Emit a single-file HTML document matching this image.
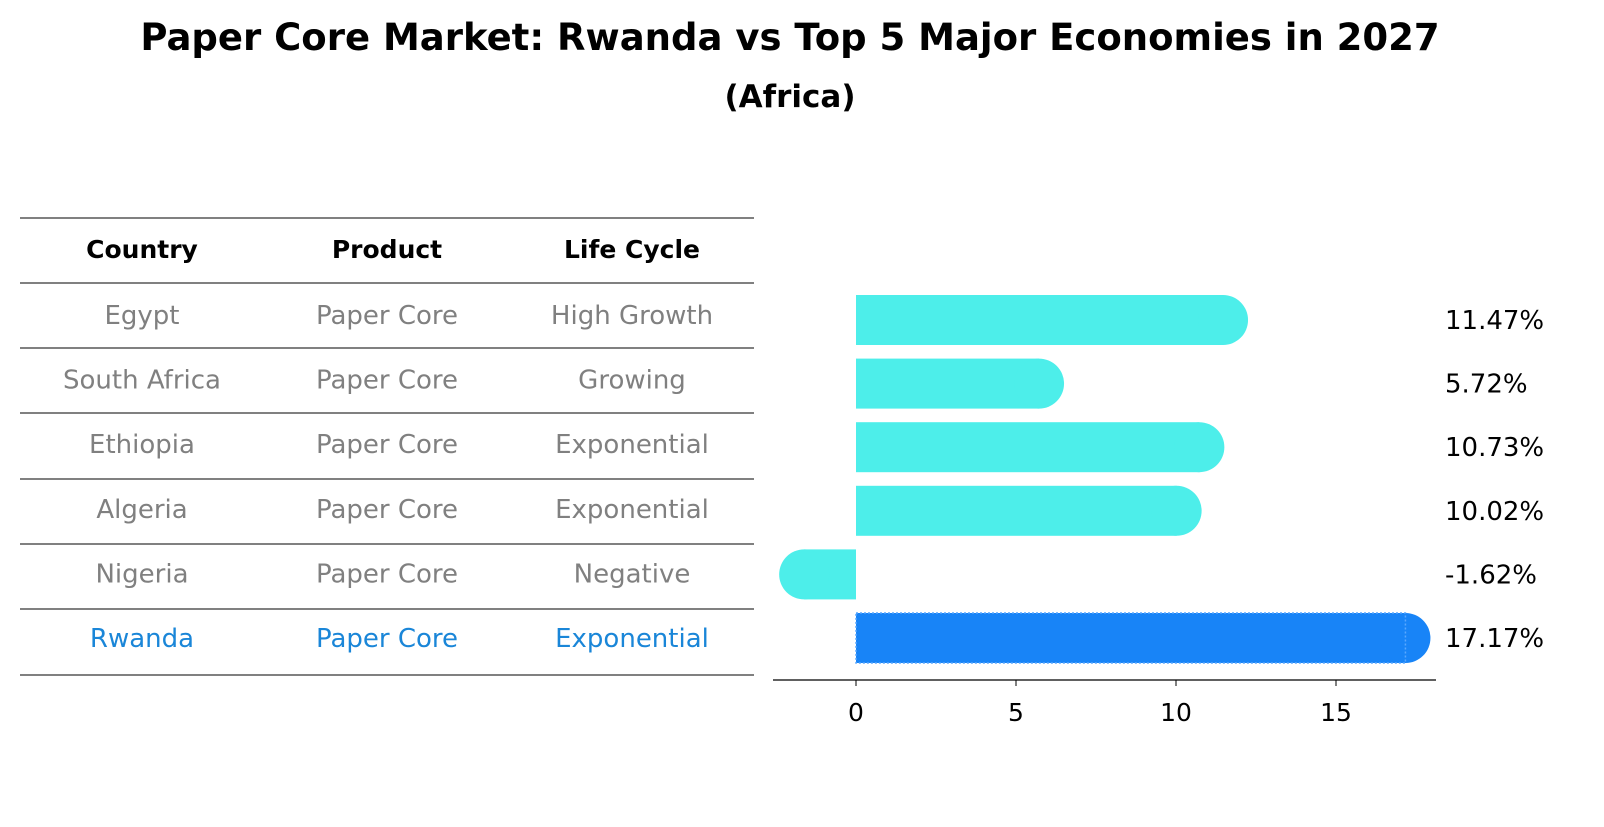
<!DOCTYPE html>
<html><head><meta charset="utf-8"><style>
body{margin:0;background:#fff;font-family:"DejaVu Sans","Liberation Sans",sans-serif;}
</style></head><body>
<svg id="c" width="1604" height="823" xmlns="http://www.w3.org/2000/svg">
<text x="790" y="50" text-anchor="middle" font-size="37" font-weight="bold" font-family="DejaVu Sans,sans-serif">Paper Core Market: Rwanda vs Top 5 Major Economies in 2027</text>
<text x="790" y="107" text-anchor="middle" font-size="31" font-weight="bold" font-family="DejaVu Sans,sans-serif">(Africa)</text>
<g id="tbl"></g>
<g id="bars"></g>
</svg>
<script>
const countries=["Egypt","South Africa","Ethiopia","Algeria","Nigeria","Rwanda"];
const products=["Paper Core","Paper Core","Paper Core","Paper Core","Paper Core","Paper Core"];
const lifecycle=["High Growth","Growing","Exponential","Exponential","Negative","Exponential"];
const values=[11.47,5.72,10.73,10.02,-1.62,17.17];
const valueLabels=["11.47%","5.72%","10.73%","10.02%","-1.62%","17.17%"];
const xTicks=[0,5,10,15];
const NS="http://www.w3.org/2000/svg";
function mk(t,a,p,txt){const e=document.createElementNS(NS,t);for(const k in a)e.setAttribute(k,a[k]);if(txt!==undefined)e.textContent=txt;p.appendChild(e);return e;}
const tbl=document.getElementById('tbl'),bars=document.getElementById('bars');
const ff="DejaVu Sans,sans-serif";
const lineYs=[218,283,348,413,479,544,609,675];
lineYs.forEach(y=>{const l=mk('line',{x1:20,x2:754,y1:y,y2:y,stroke:'#000','stroke-width':1},tbl);

});
const colX=[142,387,632];
["Country","Product","Life Cycle"].forEach((h,i)=>{const t=mk('text',{x:colX[i],y:258,'text-anchor':'middle','font-size':25,'font-weight':'bold','font-family':ff},tbl,h);

});
function rowY(i){return 315+i*64.6;}
countries.forEach((c,i)=>{const col=c==="Rwanda"?'#1a86d8':'#808080';
[c,products[i],lifecycle[i]].forEach((v,j)=>{const t=mk('text',{x:colX[j],y:rowY(i)+9,'text-anchor':'middle','font-size':26,fill:col,'font-family':ff},tbl,v);

});});
const x0=856,ppu=32;function X(v){return x0+v*ppu;}
const ax=mk('line',{x1:773,x2:1436,y1:680,y2:680,stroke:'#000','stroke-width':1.2},bars);


xTicks.forEach(v=>{mk('line',{x1:X(v),x2:X(v),y1:680,y2:686,stroke:'#000'},bars);
const t=mk('text',{x:X(v),y:721,'text-anchor':'middle','font-size':25,'font-family':ff},bars,String(v));

});
values.forEach((v,i)=>{const y=320+i*63.6,h=50,isR=countries[i]==="Rwanda";const col=isR?'#1884f7':'#4deeea';
const g=mk('g',{},bars);


const xa=Math.min(X(0),X(v)),w=Math.abs(X(v)-X(0));
mk('rect',{x:xa,y:y-h/2,width:w,height:h,fill:col},g);
mk('circle',{cx:X(v),cy:y,r:h/2,fill:col},g);
if(isR)mk('rect',{x:xa,y:y-h/2,width:w,height:h,fill:'none',stroke:'#5aa8ff','stroke-width':1.5,'stroke-dasharray':'2 2'},g);
const t=mk('text',{x:1445,y:y+9,'font-size':26,'font-family':ff},bars,valueLabels[i]);

});
</script>
</body></html>
